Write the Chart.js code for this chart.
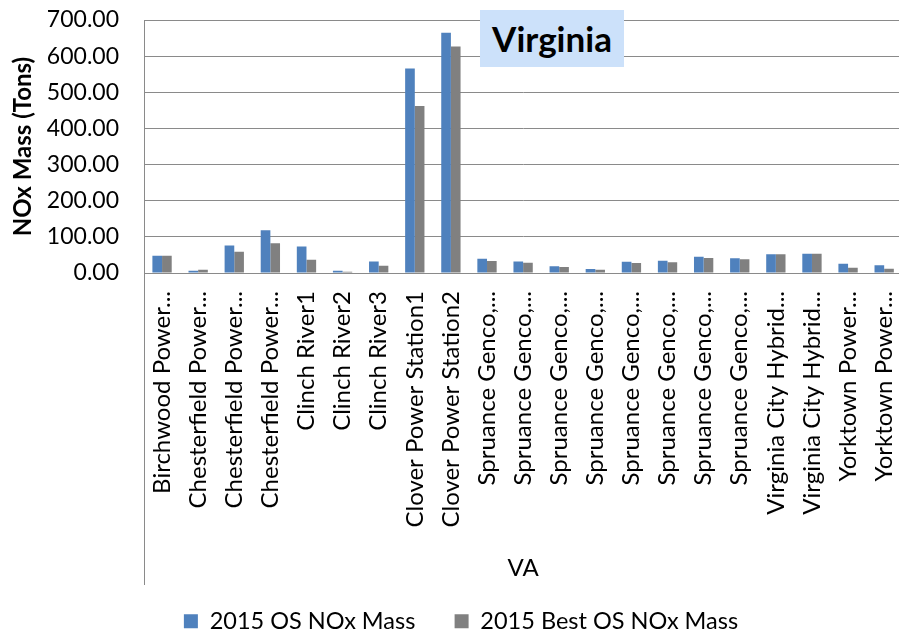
<!DOCTYPE html>
<html>
<head>
<meta charset="utf-8">
<script src="https://cdn.jsdelivr.net/npm/chart.js@4/dist/chart.umd.min.js"></script>
<style>
  html, body { margin: 0; padding: 0; background: #fff; overflow: hidden; }
  #wrap { position: relative; width: 899px; height: 632px; overflow: hidden; }
  #chart { position: absolute; left: 0; top: 0; }
  #title {
    position: absolute; left: 480px; top: 10px; width: 144px; height: 57px;
    background: #cce1fa; color: #000;
    font: bold 35px Lato, sans-serif; line-height: 57px; text-align: center;
  }
</style>
</head>
<body>
<div id="wrap">
  <canvas id="chart" width="923" height="643"></canvas>
  <div id="title">Virginia</div>
</div>
<script>
/* global Chart */

const categories = [
  'Birchwood Power...', 'Chesterfield Power...', 'Chesterfield Power...', 'Chesterfield Power...',
  'Clinch River1', 'Clinch River2', 'Clinch River3',
  'Clover Power Station1', 'Clover Power Station2',
  'Spruance Genco,...', 'Spruance Genco,...', 'Spruance Genco,...', 'Spruance Genco,...',
  'Spruance Genco,...', 'Spruance Genco,...', 'Spruance Genco,...', 'Spruance Genco,...',
  'Virginia City Hybrid...', 'Virginia City Hybrid...',
  'Yorktown Power...', 'Yorktown Power...',
];

const osNox2015 = [48, 6.5, 76, 118, 73, 6.5, 31.5, 566, 665, 39.6, 32, 18.5, 11, 31.4, 34, 45, 40.6, 51.7, 53.5, 25.8, 21.2];
const bestOsNox2015 = [48, 9, 59, 82, 37, 3.7, 20, 462, 627, 33, 28.6, 16.6, 9.2, 27.7, 29.5, 41.5, 37.9, 51.7, 53.5, 14.8, 12];

const seriesNames = ['2015 OS NOx Mass', '2015 Best OS NOx Mass'];
const yTicks = [0, 100, 200, 300, 400, 500, 600, 700];
const groupLabel = 'VA';
const yTitle = 'NOx Mass (Tons)';

const GRID = '#8a8a8a';
const FONT = 'Lato';

/* Vertical separator of the multi-level category axis */
const groupLine = {
  id: 'groupLine',
  afterDraw(chart) {
    const { ctx, chartArea } = chart;
    ctx.save();
    ctx.strokeStyle = GRID;
    ctx.lineWidth = 1;
    ctx.beginPath();
    ctx.moveTo(chartArea.left + 0.5, chartArea.bottom);
    ctx.lineTo(chartArea.left + 0.5, 585);
    ctx.stroke();
    ctx.restore();
  },
};

new Chart(document.getElementById('chart'), {
  type: 'bar',
  data: {
    labels: categories,
    datasets: [
      { label: seriesNames[0], data: osNox2015, backgroundColor: '#4f81bd' },
      { label: seriesNames[1], data: bestOsNox2015, backgroundColor: '#808080' },
    ],
  },
  options: {
    responsive: false,
    devicePixelRatio: 1,
    animation: false,
    layout: { padding: { left: 0, right: 1, top: 20, bottom: 0 } },
    datasets: { bar: { categoryPercentage: 0.535, barPercentage: 1 } },
    plugins: {
      tooltip: { enabled: false },
      legend: {
        position: 'bottom',
        labels: {
          color: '#000',
          font: { family: FONT, size: 23.5 },
          boxWidth: 14,
          boxHeight: 14,
          padding: 39.25,
        },
      },
    },
    scales: {
      x: {
        grid: { display: false },
        border: { display: true, color: GRID, width: 1 },
        ticks: {
          color: '#000',
          font: { family: FONT, size: 24 },
          minRotation: 90,
          maxRotation: 90,
          autoSkip: false,
          padding: 10,
        },
        title: {
          display: true,
          text: groupLabel,
          color: '#000',
          font: { family: FONT, size: 24 },
          padding: { top: 0, bottom: -12 },
        },
        afterFit(scale) { scale.height = 297.25; },
      },
      y: {
        min: 0,
        max: 700,
        /* invisible tick marks give the label gap without padding the top */
        grid: { color: GRID, lineWidth: 1, drawTicks: true, tickLength: 25, tickColor: 'transparent' },
        border: { display: true, color: GRID, width: 1 },
        afterBuildTicks(scale) { scale.ticks = yTicks.map(v => ({ value: v })); },
        ticks: {
          color: '#000',
          font: { family: FONT, size: 23 },
          padding: 0,
          callback: v => v.toFixed(2),
        },
        title: {
          display: true,
          text: yTitle,
          color: '#000',
          font: { family: FONT, size: 24, weight: 'bold' },
          padding: { top: 9, bottom: 0 },
        },
        afterFit(scale) { scale.width = 144; },
      },
    },
  },
  plugins: [groupLine],
});
</script>
</body>
</html>
